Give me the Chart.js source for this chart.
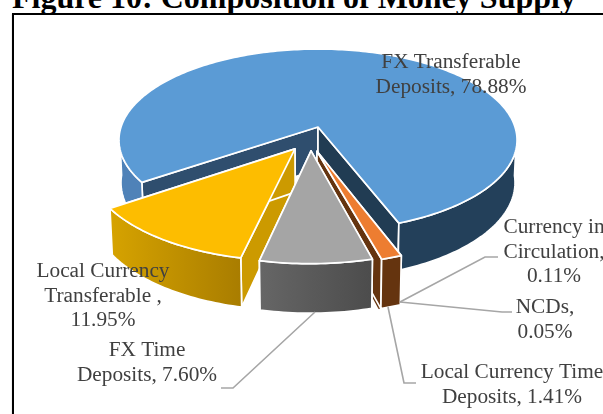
<!DOCTYPE html>
<html>
<head>
<meta charset="utf-8">
<title>Composition of Money Supply</title>
<script src="https://cdn.jsdelivr.net/npm/chart.js@4"></script>
<style>
    html, body { margin: 0; padding: 0; background: #fff; width: 603px; height: 414px; overflow: hidden; }
    #titel { position: absolute; left: 12px; top: -18px; margin: 0; font: bold 32px/30px "Liberation Serif", serif; color: #000; white-space: nowrap; }
    #kader { position: absolute; left: 12px; top: 13px; width: 700px; height: 500px; border: 2px solid #000; box-shadow: 0 1px 1px #aaa; }
    #grafiek { position: absolute; left: 0; top: 0; }
</style>
</head>
<body>
<div id="kader"></div>
<h1 id="titel">Figure 10: Composition of Money Supply</h1>
<canvas id="grafiek" width="603" height="414"></canvas>
<script>
// 1. DATA
const categories = [
    ['FX Transferable', 'Deposits'],
    ['Local Currency Time', 'Deposits'],
    ['Currency in', 'Circulation'],
    ['NCDs'],
    ['FX Time', 'Deposits'],
    ['Local Currency', 'Transferable ']
];
const shares = [78.88, 1.41, 0.11, 0.05, 7.60, 11.95];

// 2. STIJL
const topColors = ['#5b9bd5', '#ed7d31', '#65340f', '#65340f', '#a5a5a5', '#fdbd00'];
const wallColors = ['#2f4e6e', '#65340f', '#65340f', '#65340f', '#555555', '#cc9a00'];
const rimLeft = ['#4f82b8', '#65340f', '#65340f', '#65340f', '#666666', '#d6a300'];
const rimRight = ['#23405a', '#65340f', '#65340f', '#65340f', '#4c4c4c', '#a97d00'];
const drawOrder = [0, 5, 3, 2, 1, 4];
const shifts = [[0, 0], [-0.005, 0.262], [-0.005, 0.262], [-0.005, 0.262], [-0.034, 0.258], [-0.113, 0.237]];

// perspectief van het taartvlak
const view = { cx: 318, cy: 127, a: 197, b: 89.1, k: 0.1429, h: 42.5, m: 0.01 };

// labels: midden x, eerste basislijn, waarde op eigen regel
const labelPos = [
    { x: 451, y: 68 },
    { x: 512, y: 378 },
    { x: 554, y: 233, own: true },
    { x: 545, y: 313, own: true },
    { x: 147, y: 356 },
    { x: 103, y: 277, own: true }
];
const leaders = [
    [[221, 388], [233, 388], [315, 312]],
    [[498, 257], [485, 257], [400, 302]],
    [[512, 312], [502, 312], [400, 302]],
    [[416, 383], [404, 383], [388, 307]]
];

function project(u, v, z) {
    const d = 1 - view.k * v + view.m * z;
    return [view.cx + view.a * u / d, view.cy + (view.b * v + view.h * z) / d];
}

function rimPoints(shift, a0, a1, z) {
    const pts = [];
    const n = Math.max(2, Math.ceil(Math.abs(a1 - a0) / 0.02));
    for (let i = 0; i <= n; i++) {
        const a = a0 + (a1 - a0) * i / n;
        pts.push(project(shift[0] + Math.cos(a), shift[1] + Math.sin(a), z));
    }
    return pts;
}

function fillPoly(ctx, pts, fill) {
    ctx.beginPath();
    pts.forEach((p, i) => i ? ctx.lineTo(p[0], p[1]) : ctx.moveTo(p[0], p[1]));
    ctx.closePath();
    ctx.fillStyle = fill;
    ctx.fill();
    ctx.stroke();
}

function drawWall(ctx, shift, angle, fill) {
    const top = rimPoints(shift, angle, angle, 0)[0];
    const bottom = rimPoints(shift, angle, angle, 1)[0];
    fillPoly(ctx, [project(shift[0], shift[1], 0), top, bottom, project(shift[0], shift[1], 1)], fill);
}

function drawRim(ctx, shift, a0, a1, fill) {
    fillPoly(ctx, rimPoints(shift, a0, a1, 0).concat(rimPoints(shift, a1, a0, 1)), fill);
}

function rimGradient(ctx, shift, a0, a1, i) {
    const p0 = rimPoints(shift, a0, a0, 0)[0];
    const p1 = rimPoints(shift, a1, a1, 0)[0];
    const grad = ctx.createLinearGradient(Math.min(p0[0], p1[0]), 0, Math.max(p0[0], p1[0]), 0);
    grad.addColorStop(0, rimLeft[i]);
    grad.addColorStop(1, rimRight[i]);
    return grad;
}

// 3. 3D TAART: hoeken komen uit de ArcElements van Chart.js
const pie3d = {
    id: 'pie3d',
    beforeDatasetDraw(chart) {
        const ctx = chart.ctx;
        const arcs = chart.getDatasetMeta(0).data;
        ctx.save();
        ctx.lineJoin = 'round';
        drawOrder.forEach(i => {
            const s = shifts[i];
            const start = arcs[i].startAngle;
            const end = arcs[i].endAngle;
            const tiny = i === 2 || i === 3;
            ctx.lineWidth = tiny ? 0.1 : 1.7;
            ctx.strokeStyle = tiny ? topColors[i] : '#ffffff';

            drawWall(ctx, s, start, wallColors[i]);
            if (i === 0) {
                // buitenrand links en rechts van de uitsparing, binnenwand rechts donkerder
                drawWall(ctx, s, end, '#213c53');
                drawRim(ctx, s, start, Math.PI * 0.98, rimLeft[0]);
                drawRim(ctx, s, end, Math.PI * 2 + 0.07, rimRight[0]);
            } else {
                drawWall(ctx, s, end, wallColors[i]);
                drawRim(ctx, s, start, end, rimGradient(ctx, s, start, end, i));
            }
            const apex = project(s[0], s[1], 0);
            fillPoly(ctx, [apex].concat(rimPoints(s, start, end, 0)), topColors[i]);
        });
        ctx.restore();
        return false;
    },
    afterDatasetsDraw(chart) {
        const ctx = chart.ctx;
        ctx.save();
        ctx.strokeStyle = '#a6a6a6';
        ctx.lineWidth = 1.6;
        leaders.forEach(line => {
            ctx.beginPath();
            line.forEach((p, i) => i ? ctx.lineTo(p[0], p[1]) : ctx.moveTo(p[0], p[1]));
            ctx.stroke();
        });

        ctx.font = '21.3px "Liberation Serif", serif';
        ctx.fillStyle = '#404040';
        ctx.textAlign = 'center';
        categories.forEach((cat, i) => {
            const value = shares[i].toFixed(2) + '%';
            const lines = cat.slice();
            if (labelPos[i].own) {
                lines[lines.length - 1] += ',';
                lines.push(value);
            } else {
                lines[lines.length - 1] += ', ' + value;
            }
            lines.forEach((t, n) => ctx.fillText(t, labelPos[i].x, labelPos[i].y + n * 24.5));
        });
        ctx.restore();
    }
};

new Chart(document.getElementById('grafiek'), {
    type: 'pie',
    data: {
        labels: categories,
        datasets: [{ data: shares, backgroundColor: topColors, borderColor: '#fff' }]
    },
    options: {
        responsive: false,
        animation: false,
        rotation: 235.2,
        plugins: { legend: { display: false }, tooltip: { enabled: false } }
    },
    plugins: [pie3d]
});
</script>
</body>
</html>
